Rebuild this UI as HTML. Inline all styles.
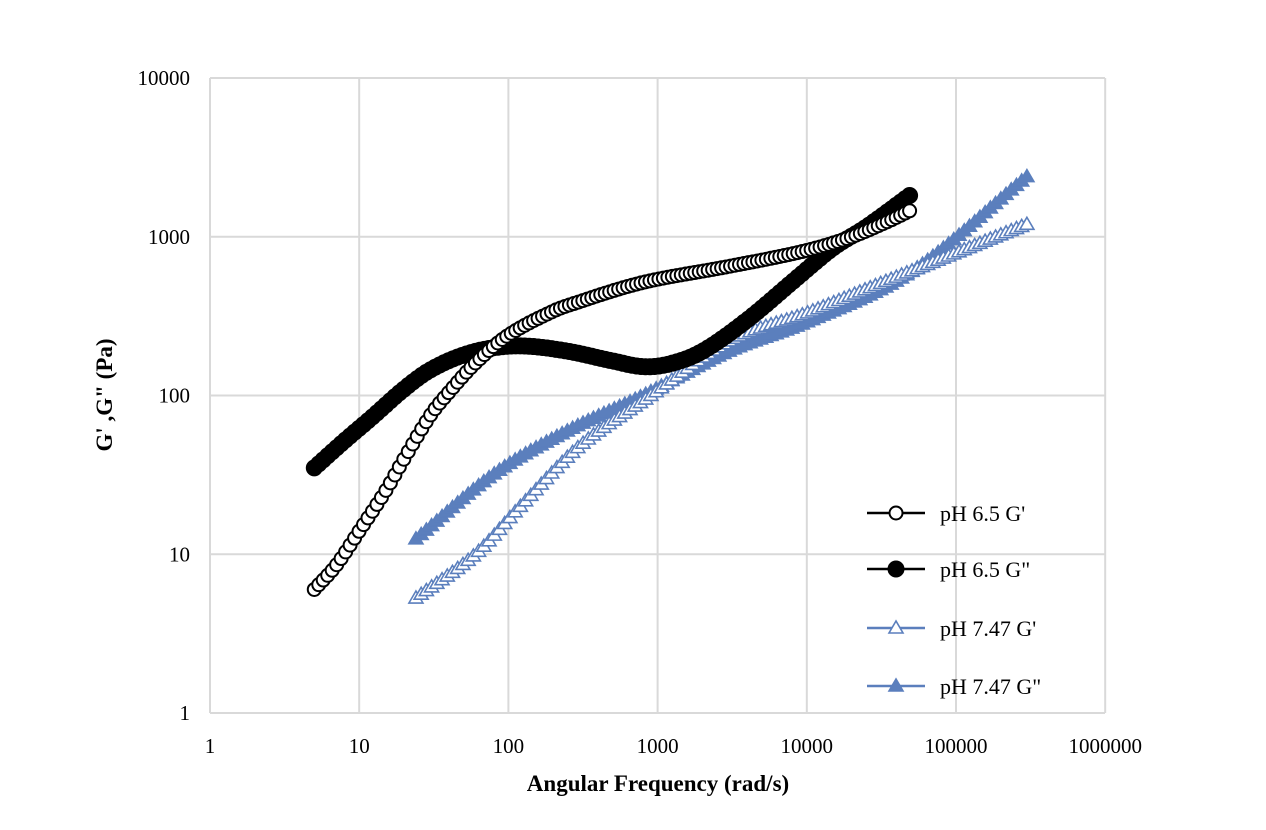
<!DOCTYPE html>
<html><head><meta charset="utf-8"><style>
html,body{margin:0;padding:0;background:#fff;}
svg{display:block;}
text{font-family:"Liberation Serif",serif;}
</style></head><body>
<svg id="s" width="1266" height="830" xmlns="http://www.w3.org/2000/svg">
<rect width="1266" height="830" fill="#fff"/>
<g id="grid" stroke="#d9d9d9" stroke-width="2"></g>
<g id="labels" font-size="21" fill="#000"></g>
<text x="658" y="791" font-size="23" font-weight="bold" text-anchor="middle">Angular Frequency (rad/s)</text>
<text transform="translate(112,395) rotate(-90)" font-size="23" font-weight="bold" text-anchor="middle">G' ,G" (Pa)</text>
<g id="series"></g>
<g id="legend" font-size="22"></g>
</svg>
<script>
var NS="http://www.w3.org/2000/svg";
function el(p,t,a,txt){var e=document.createElementNS(NS,t);for(var k in a)e.setAttribute(k,a[k]);if(txt!=null)e.textContent=txt;document.getElementById(p).appendChild(e);return e;}
function Y(v){return 713-Math.log10(v)*158.75;}
var xl=["1","10","100","1000","10000","100000","1000000"];
for(var i=0;i<7;i++){var x=210+i*149.2;el("grid","line",{x1:x,y1:78,x2:x,y2:713});el("labels","text",{x:x,y:753,"text-anchor":"middle"},xl[i]);}
var yl=["1","10","100","1000","10000"];
for(var i=0;i<5;i++){var y=713-i*158.75;el("grid","line",{x1:210,y1:y,x2:1105,y2:y});el("labels","text",{x:190,y:y+7,"text-anchor":"end"},yl[i]);}
function interp(pts,lx){
 var P=pts.map(function(p){return [Math.log10(p[0]),Math.log10(p[1])];});
 var n=P.length;
 for(var i=0;i<n-1;i++){if(lx>=P[i][0]-1e-9&&lx<=P[i+1][0]+1e-9){
  var h=P[i+1][0]-P[i][0],t=(lx-P[i][0])/h;
  function slope(j){if(j==0)return (P[1][1]-P[0][1])/(P[1][0]-P[0][0]);if(j==n-1)return (P[n-1][1]-P[n-2][1])/(P[n-1][0]-P[n-2][0]);return (P[j+1][1]-P[j-1][1])/(P[j+1][0]-P[j-1][0]);}
  var m0=slope(i)*h,m1=slope(i+1)*h,t2=t*t,t3=t2*t;
  var y=(2*t3-3*t2+1)*P[i][1]+(t3-2*t2+t)*m0+(-2*t3+3*t2)*P[i+1][1]+(t3-t2)*m1;
  return Math.pow(10,y);}}
 return pts[n-1][1];}
function series(pts,color,marker,filled,step){
 var lx0=Math.log10(pts[0][0]),lx1=Math.log10(pts[pts.length-1][0]);var d="";var ps=[];
 for(var lx=lx0;lx<=lx1+1e-9;lx+=step){var v=interp(pts,lx);var x=210+lx*149.2,y=Y(v);ps.push([x,y]);d+=(d?"L":"M")+x.toFixed(1)+","+y.toFixed(1);}
 el("series","path",{d:d,fill:"none",stroke:color,"stroke-width":2.5});
 ps.forEach(function(p){drawM(p[0],p[1],color,marker,filled,"series");});
}
function drawM(x,y,color,marker,filled,g){
 if(marker=="c")el(g,"circle",{cx:x,cy:y,r:filled?7.5:6.5,fill:filled?color:"#fff",stroke:color,"stroke-width":2});
 else el(g,"polygon",{points:(x)+","+(y-7)+" "+(x-7)+","+(y+5)+" "+(x+7)+","+(y+5),fill:filled?color:"#fff",stroke:color,"stroke-width":1.6});
}
var blue="#5b7fbd";
series([[24,12.5],[80,32],[250,60],[800,100],[3000,190],[10000,290],[50000,600],[300000,2400]],blue,"t",true,0.035);
series([[24,5.3],[60,10],[120,20],[300,48],[900,100],[3000,220],[10000,330],[30000,500],[300000,1200]],blue,"t",false,0.035);
series([[5,35],[8,52],[12,72],[20,110],[30,145],[50,180],[80,200],[130,205],[250,190],[500,165],[800,152],[1200,158],[2000,190],[4000,300],[8000,520],[15000,850],[25000,1150],[52000,1900]],"#000","c",true,0.03);
series([[5,6],[7,8.5],[10,14],[15,25],[20,40],[30,75],[40,105],[60,160],[100,240],[200,340],[300,390],[600,480],[1000,540],[3000,650],[10000,820],[20000,1000],[35000,1250],[52000,1500]],"#000","c",false,0.03);
var L=[["pH 6.5 G'","#000","c",false,513],['pH 6.5 G"',"#000","c",true,569],["pH 7.47 G'",blue,"t",false,628],['pH 7.47 G"',blue,"t",true,686]];
L.forEach(function(l){el("legend","line",{x1:867,y1:l[4],x2:925,y2:l[4],stroke:l[1],"stroke-width":2.5});drawM(896,l[4],l[1],l[2],l[3],"legend");el("legend","text",{x:940,y:l[4]+8},l[0]);});
</script>
</body></html>
